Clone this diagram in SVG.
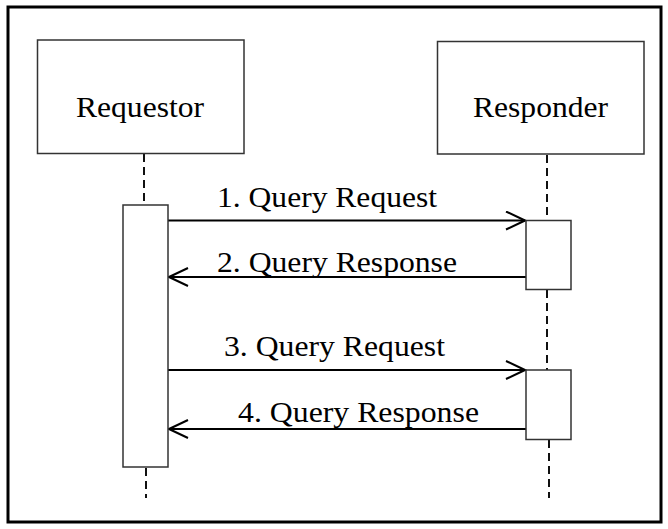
<svg xmlns="http://www.w3.org/2000/svg" width="668" height="529" viewBox="0 0 668 529">
<style>
.box{fill:#fff;stroke:#333;stroke-width:1.5}
.life{stroke:#111;stroke-width:2;stroke-dasharray:8 5;fill:none}
.msg{stroke:#000;stroke-width:2;fill:none}
.t{font-family:"Liberation Serif","Times New Roman",serif;font-size:29px;fill:#000}
</style>
<defs>
<marker id="open" markerUnits="userSpaceOnUse" markerWidth="22" markerHeight="22" viewBox="0 0 22 22" refX="20" refY="10" orient="auto">
<path d="M1,1 L20,10 L1,19" fill="none" stroke="#000" stroke-width="2"/>
</marker>
</defs>
<rect x="0" y="0" width="668" height="529" fill="#fff"/>
<rect id="frame" x="8" y="7" width="653" height="515" fill="none" stroke="#000" stroke-width="3"/>
<g id="connectors">
<line class="life" x1="144" y1="154" x2="144" y2="205"/>
<line class="life" x1="547" y1="155" x2="547" y2="220"/>
<line class="life" x1="547" y1="290" x2="547" y2="370"/>
<line class="life" x1="146" y1="468" x2="146" y2="498"/>
<line class="life" x1="549" y1="440" x2="549" y2="498"/>
<line class="msg" x1="168" y1="220.5" x2="525" y2="220.5" marker-end="url(#open)"/>
<line class="msg" x1="526" y1="277" x2="169" y2="277" marker-end="url(#open)"/>
<line class="msg" x1="168" y1="370" x2="525" y2="370" marker-end="url(#open)"/>
<line class="msg" x1="526" y1="429" x2="169" y2="429" marker-end="url(#open)"/>
<text class="t" x="217" y="206.5" textLength="220" lengthAdjust="spacingAndGlyphs">1. Query Request</text>
<text class="t" x="217" y="271.5" textLength="240" lengthAdjust="spacingAndGlyphs">2. Query Response</text>
<text class="t" x="224" y="356" textLength="221" lengthAdjust="spacingAndGlyphs">3. Query Request</text>
<text class="t" x="238" y="421.5" textLength="241" lengthAdjust="spacingAndGlyphs">4. Query Response</text>
</g>
<g id="requestor">
<rect class="box" x="37.5" y="40" width="206.5" height="113.5"/>
<text class="t" x="76" y="116.5" textLength="128" lengthAdjust="spacingAndGlyphs">Requestor</text>
</g>
<g id="responder">
<rect class="box" x="437.5" y="41.5" width="206.5" height="112.5"/>
<text class="t" x="473" y="116.5" textLength="135" lengthAdjust="spacingAndGlyphs">Responder</text>
</g>
<g id="requestor-activation">
<rect class="box" x="123" y="205" width="45" height="262"/>
</g>
<g id="responder-activation-1">
<rect class="box" x="526" y="220.5" width="45" height="69"/>
</g>
<g id="responder-activation-2">
<rect class="box" x="526" y="370" width="45" height="69.5"/>
</g>
</svg>
